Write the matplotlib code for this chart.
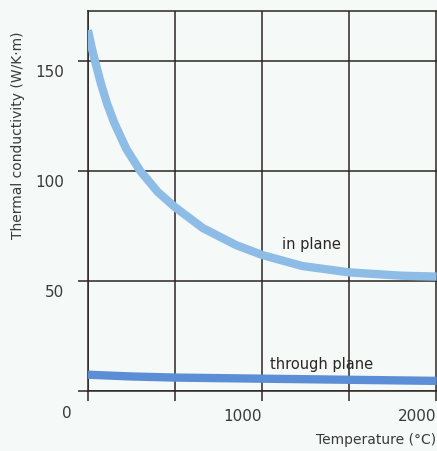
import matplotlib.pyplot as plt
import matplotlib.transforms as mtransforms

# values
temp_in = [0, 20, 40, 75, 110, 150, 220, 300, 400, 500, 660, 850, 1000,
           1230, 1500, 1800, 2000]
k_in = [164, 156.5, 150, 139.5, 130.5, 122, 110, 100, 90.5, 83.5, 74, 66.3,
        61.8, 56.8, 53.9, 52.4, 52]

temp_thr = [0, 250, 500, 1000, 1500, 2000]
k_thr = [7.4, 6.6, 6.1, 5.6, 5.1, 4.6]

xticks = [0, 500, 1000, 1500, 2000]
xlabels = ["", "", "1000", "", "2000"]
yticks = [0, 50, 100, 150]
ylabels = ["", "50", "100", "150"]

bg = "#f5f9f7"
ink = "#2b2623"
txt = "#3a3a3a"

plt.rcParams['font.family'] = ['DejaVu Sans']

fig = plt.figure(figsize=(4.37, 4.52), dpi=100, facecolor=bg)
ax = fig.add_axes([88/437, 1-392/452, 1-88/437 + 0.002, 380/452])
ax.set_facecolor(bg)

ax.plot(temp_in, k_in, color="#8dbde6", lw=6, solid_capstyle="butt",
        solid_joinstyle="round", zorder=3)
ax.plot(temp_thr, k_thr, color="#5b8ed6", lw=6, solid_capstyle="butt",
        solid_joinstyle="round", zorder=3)

ax.set_xlim(0, 2008)
ax.set_ylim(0, 172.7)

ax.set_xticks(xticks)
ax.set_xticklabels(xlabels, ha="right", color=txt, fontsize=11)
ax.set_yticks(yticks)
ax.set_yticklabels(ylabels, color=txt, fontsize=11)
ax.tick_params(axis="x", direction="out", length=7, width=1.1, color=ink, pad=5)
ax.tick_params(axis="y", direction="out", length=7, width=1.1, color=ink, pad=10)

# labels on the y axis sit a little below their tick
shift = mtransforms.ScaledTranslation(0, -9/100, fig.dpi_scale_trans)
for lab in ax.get_yticklabels():
    lab.set_transform(lab.get_transform() + shift)

ax.grid(True, color=ink, lw=1.1, zorder=1)
ax.set_axisbelow(True)
for side in ["left", "top", "bottom"]:
    ax.spines[side].set_color(ink)
    ax.spines[side].set_linewidth(1.1)
ax.spines["right"].set_visible(False)

ax.text(1284, 67, "in plane", ha="center", va="center", fontsize=10.5, color=ink)
ax.text(1341, 12.7, "through plane", ha="center", va="center", fontsize=10.5,
        color=ink)

fig.text(67/437, 1-414/452, "0", ha="center", va="center", fontsize=11, color=txt)
fig.text(18/437, 1-135/452, "Thermal conductivity (W/K\u00b7m)", rotation=90,
         ha="center", va="center", fontsize=10, color=txt)
fig.text(0.999, 1-440/452, "Temperature (\u00b0C)", ha="right", va="center",
         fontsize=10, color=txt)

fig.savefig("out.png", dpi=100, facecolor=bg)
